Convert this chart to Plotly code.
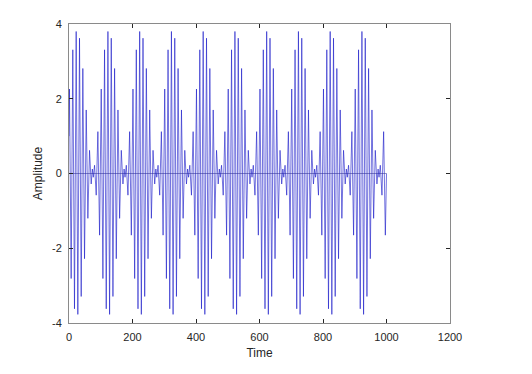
import plotly.graph_objects as go

# Extrema of the beat signal (time, amplitude)
time = [
    0.0, 1.5, 6.8, 12.0, 17.3, 22.6, 27.8, 33.1, 38.4, 43.6, 48.9, 54.2, 59.4, 64.7, 69.9, 73.5, 76.5, 80.5, 85.7, 91.0, 96.3,
    101.5, 106.8, 112.0, 117.3, 122.6, 127.8, 133.1, 138.4, 143.6, 148.9, 154.2, 159.4, 164.7, 169.9, 173.5, 176.5, 180.5, 185.7, 191.0, 196.3,
    201.5, 206.8, 212.0, 217.3, 222.6, 227.8, 233.1, 238.4, 243.6, 248.9, 254.2, 259.4, 264.7, 269.9, 273.5, 276.5, 280.5, 285.7, 291.0, 296.3,
    301.5, 306.8, 312.0, 317.3, 322.6, 327.8, 333.1, 338.4, 343.6, 348.9, 354.2, 359.4, 364.7, 369.9, 373.5, 376.5, 380.5, 385.7, 391.0, 396.3,
    401.5, 406.8, 412.0, 417.3, 422.6, 427.8, 433.1, 438.4, 443.6, 448.9, 454.2, 459.4, 464.7, 469.9, 473.5, 476.5, 480.5, 485.7, 491.0, 496.3,
    501.5, 506.8, 512.0, 517.3, 522.6, 527.8, 533.1, 538.4, 543.6, 548.9, 554.2, 559.4, 564.7, 569.9, 573.5, 576.5, 580.5, 585.7, 591.0, 596.3,
    601.5, 606.8, 612.0, 617.3, 622.6, 627.8, 633.1, 638.4, 643.6, 648.9, 654.2, 659.4, 664.7, 669.9, 673.5, 676.5, 680.5, 685.7, 691.0, 696.3,
    701.5, 706.8, 712.0, 717.3, 722.6, 727.8, 733.1, 738.4, 743.6, 748.9, 754.2, 759.4, 764.7, 769.9, 773.5, 776.5, 780.5, 785.7, 791.0, 796.3,
    801.5, 806.8, 812.0, 817.3, 822.6, 827.8, 833.1, 838.4, 843.6, 848.9, 854.2, 859.4, 864.7, 869.9, 873.5, 876.5, 880.5, 885.7, 891.0, 896.3,
    901.5, 906.8, 912.0, 917.3, 922.6, 927.8, 933.1, 938.4, 943.6, 948.9, 954.2, 959.4, 964.7, 969.9, 973.5, 976.5, 980.5, 985.7, 991.0, 996.3,
    1000.0,
]
amplitude = [
    1.0, 2.26, -2.81, 3.31, -3.62, 3.80, -3.77, 3.62, -3.29, 2.81, -2.28, 1.70, -1.20, 0.62, -0.28, 0.12, -0.10, 0.22, -0.58, 1.12, -1.65,
    2.26, -2.81, 3.31, -3.62, 3.80, -3.77, 3.62, -3.29, 2.81, -2.28, 1.70, -1.20, 0.62, -0.28, 0.12, -0.10, 0.22, -0.58, 1.12, -1.65,
    2.26, -2.81, 3.31, -3.62, 3.80, -3.77, 3.62, -3.29, 2.81, -2.28, 1.70, -1.20, 0.62, -0.28, 0.12, -0.10, 0.22, -0.58, 1.12, -1.65,
    2.26, -2.81, 3.31, -3.62, 3.80, -3.77, 3.62, -3.29, 2.81, -2.28, 1.70, -1.20, 0.62, -0.28, 0.12, -0.10, 0.22, -0.58, 1.12, -1.65,
    2.26, -2.81, 3.31, -3.62, 3.80, -3.77, 3.62, -3.29, 2.81, -2.28, 1.70, -1.20, 0.62, -0.28, 0.12, -0.10, 0.22, -0.58, 1.12, -1.65,
    2.26, -2.81, 3.31, -3.62, 3.80, -3.77, 3.62, -3.29, 2.81, -2.28, 1.70, -1.20, 0.62, -0.28, 0.12, -0.10, 0.22, -0.58, 1.12, -1.65,
    2.26, -2.81, 3.31, -3.62, 3.80, -3.77, 3.62, -3.29, 2.81, -2.28, 1.70, -1.20, 0.62, -0.28, 0.12, -0.10, 0.22, -0.58, 1.12, -1.65,
    2.26, -2.81, 3.31, -3.62, 3.80, -3.77, 3.62, -3.29, 2.81, -2.28, 1.70, -1.20, 0.62, -0.28, 0.12, -0.10, 0.22, -0.58, 1.12, -1.65,
    2.26, -2.81, 3.31, -3.62, 3.80, -3.77, 3.62, -3.29, 2.81, -2.28, 1.70, -1.20, 0.62, -0.28, 0.12, -0.10, 0.22, -0.58, 1.12, -1.65,
    2.26, -2.81, 3.31, -3.62, 3.80, -3.77, 3.62, -3.29, 2.81, -2.28, 1.70, -1.20, 0.62, -0.28, 0.12, -0.10, 0.22, -0.58, 1.12, -1.65,
    0.0,
]
baseline_time = [0, 1000]
baseline_value = [0, 0]

x_ticks = [0, 200, 400, 600, 800, 1000, 1200]
y_ticks = [-4, -2, 0, 2, 4]

fig = go.Figure()
fig.add_trace(go.Scatter(x=baseline_time, y=baseline_value, mode="lines",
                         line=dict(color="rgba(40,40,110,0.7)", width=0.7),
                         hoverinfo="skip"))
fig.add_trace(go.Scatter(x=time, y=amplitude, mode="lines",
                         line=dict(color="rgb(20,20,200)", width=0.6)))

axis_common = dict(
    showgrid=False, zeroline=False, showline=True, mirror="ticks",
    linecolor="#8a8a8a", linewidth=1, ticks="inside", ticklen=4,
    tickcolor="#262626", tickwidth=1, automargin=False,
    tickfont=dict(family="Liberation Sans", size=11, color="#262626"),
)
fig.update_layout(
    width=532, height=374,
    margin=dict(l=61, r=90, t=16, b=59),
    paper_bgcolor="white", plot_bgcolor="white",
    showlegend=False,
    font=dict(family="Liberation Sans", size=11, color="#262626"),
    xaxis=dict(range=[0, 1200], tickvals=x_ticks, ticktext=[str(v) for v in x_ticks],
               ticklabelstandoff=4,
               title=dict(text="Time", font=dict(size=12, color="#262626"), standoff=6),
               **axis_common),
    yaxis=dict(range=[-4, 4], tickvals=y_ticks, ticktext=[str(v) for v in y_ticks],
               ticklabelstandoff=4,
               title=dict(text="Amplitude", font=dict(size=12, color="#262626"), standoff=6),
               **axis_common),
)
fig.write_html("out.html")
